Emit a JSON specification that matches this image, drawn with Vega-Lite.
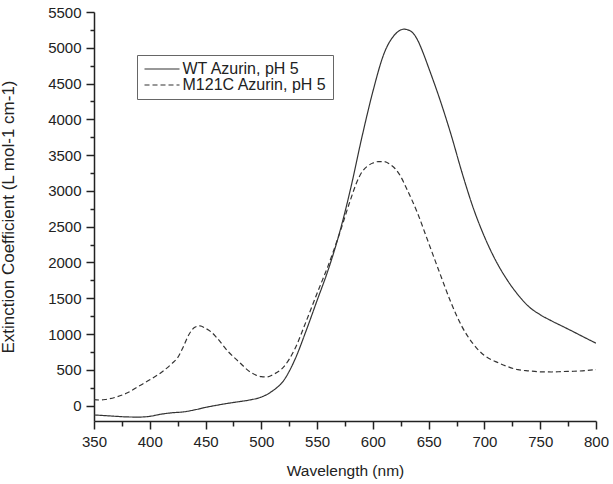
{
  "$schema": "https://vega.github.io/schema/vega-lite/v6.json",
  "width": 502,
  "height": 409,
  "autosize": "none",
  "padding": {"left": 94, "top": 12, "right": 17, "bottom": 63},
  "background": "white",
  "config": {
    "view": {"stroke": null},
    "font": "Liberation Sans",
    "axis": {
      "grid": false,
      "domainColor": "#222",
      "domainWidth": 1.5,
      "tickColor": "#222",
      "tickWidth": 1.5,
      "labelColor": "#222",
      "titleColor": "#222",
      "labelFont": "Liberation Sans",
      "titleFont": "Liberation Sans",
      "titleFontWeight": "normal",
      "labelFontSize": 15
    }
  },
  "data": {
    "values": [
      {"nm": 350, "v": -130, "s": "WT Azurin, pH 5"},
      {"nm": 360, "v": -140, "s": "WT Azurin, pH 5"},
      {"nm": 370, "v": -150, "s": "WT Azurin, pH 5"},
      {"nm": 380, "v": -158, "s": "WT Azurin, pH 5"},
      {"nm": 390, "v": -160, "s": "WT Azurin, pH 5"},
      {"nm": 400, "v": -150, "s": "WT Azurin, pH 5"},
      {"nm": 410, "v": -120, "s": "WT Azurin, pH 5"},
      {"nm": 420, "v": -100, "s": "WT Azurin, pH 5"},
      {"nm": 430, "v": -88, "s": "WT Azurin, pH 5"},
      {"nm": 440, "v": -60, "s": "WT Azurin, pH 5"},
      {"nm": 450, "v": -25, "s": "WT Azurin, pH 5"},
      {"nm": 460, "v": 5, "s": "WT Azurin, pH 5"},
      {"nm": 470, "v": 32, "s": "WT Azurin, pH 5"},
      {"nm": 480, "v": 55, "s": "WT Azurin, pH 5"},
      {"nm": 490, "v": 80, "s": "WT Azurin, pH 5"},
      {"nm": 500, "v": 120, "s": "WT Azurin, pH 5"},
      {"nm": 505, "v": 155, "s": "WT Azurin, pH 5"},
      {"nm": 510, "v": 205, "s": "WT Azurin, pH 5"},
      {"nm": 520, "v": 350, "s": "WT Azurin, pH 5"},
      {"nm": 530, "v": 640, "s": "WT Azurin, pH 5"},
      {"nm": 540, "v": 1040, "s": "WT Azurin, pH 5"},
      {"nm": 550, "v": 1470, "s": "WT Azurin, pH 5"},
      {"nm": 560, "v": 1900, "s": "WT Azurin, pH 5"},
      {"nm": 570, "v": 2410, "s": "WT Azurin, pH 5"},
      {"nm": 580, "v": 3030, "s": "WT Azurin, pH 5"},
      {"nm": 590, "v": 3740, "s": "WT Azurin, pH 5"},
      {"nm": 600, "v": 4390, "s": "WT Azurin, pH 5"},
      {"nm": 610, "v": 4920, "s": "WT Azurin, pH 5"},
      {"nm": 620, "v": 5190, "s": "WT Azurin, pH 5"},
      {"nm": 628, "v": 5260, "s": "WT Azurin, pH 5"},
      {"nm": 635, "v": 5220, "s": "WT Azurin, pH 5"},
      {"nm": 640, "v": 5110, "s": "WT Azurin, pH 5"},
      {"nm": 645, "v": 4930, "s": "WT Azurin, pH 5"},
      {"nm": 650, "v": 4720, "s": "WT Azurin, pH 5"},
      {"nm": 660, "v": 4280, "s": "WT Azurin, pH 5"},
      {"nm": 670, "v": 3790, "s": "WT Azurin, pH 5"},
      {"nm": 680, "v": 3250, "s": "WT Azurin, pH 5"},
      {"nm": 690, "v": 2760, "s": "WT Azurin, pH 5"},
      {"nm": 700, "v": 2360, "s": "WT Azurin, pH 5"},
      {"nm": 710, "v": 2030, "s": "WT Azurin, pH 5"},
      {"nm": 720, "v": 1765, "s": "WT Azurin, pH 5"},
      {"nm": 730, "v": 1550, "s": "WT Azurin, pH 5"},
      {"nm": 740, "v": 1380, "s": "WT Azurin, pH 5"},
      {"nm": 750, "v": 1270, "s": "WT Azurin, pH 5"},
      {"nm": 760, "v": 1185, "s": "WT Azurin, pH 5"},
      {"nm": 770, "v": 1108, "s": "WT Azurin, pH 5"},
      {"nm": 780, "v": 1030, "s": "WT Azurin, pH 5"},
      {"nm": 790, "v": 950, "s": "WT Azurin, pH 5"},
      {"nm": 800, "v": 872, "s": "WT Azurin, pH 5"},
      {"nm": 350, "v": 84, "s": "M121C Azurin, pH 5"},
      {"nm": 355, "v": 78, "s": "M121C Azurin, pH 5"},
      {"nm": 360, "v": 85, "s": "M121C Azurin, pH 5"},
      {"nm": 370, "v": 120, "s": "M121C Azurin, pH 5"},
      {"nm": 380, "v": 180, "s": "M121C Azurin, pH 5"},
      {"nm": 390, "v": 270, "s": "M121C Azurin, pH 5"},
      {"nm": 400, "v": 360, "s": "M121C Azurin, pH 5"},
      {"nm": 410, "v": 460, "s": "M121C Azurin, pH 5"},
      {"nm": 420, "v": 590, "s": "M121C Azurin, pH 5"},
      {"nm": 425, "v": 670, "s": "M121C Azurin, pH 5"},
      {"nm": 430, "v": 820, "s": "M121C Azurin, pH 5"},
      {"nm": 435, "v": 990, "s": "M121C Azurin, pH 5"},
      {"nm": 440, "v": 1090, "s": "M121C Azurin, pH 5"},
      {"nm": 445, "v": 1115, "s": "M121C Azurin, pH 5"},
      {"nm": 450, "v": 1080, "s": "M121C Azurin, pH 5"},
      {"nm": 455, "v": 1030, "s": "M121C Azurin, pH 5"},
      {"nm": 460, "v": 950, "s": "M121C Azurin, pH 5"},
      {"nm": 470, "v": 760, "s": "M121C Azurin, pH 5"},
      {"nm": 480, "v": 610, "s": "M121C Azurin, pH 5"},
      {"nm": 490, "v": 470, "s": "M121C Azurin, pH 5"},
      {"nm": 500, "v": 405, "s": "M121C Azurin, pH 5"},
      {"nm": 505, "v": 400, "s": "M121C Azurin, pH 5"},
      {"nm": 510, "v": 430, "s": "M121C Azurin, pH 5"},
      {"nm": 520, "v": 540, "s": "M121C Azurin, pH 5"},
      {"nm": 530, "v": 790, "s": "M121C Azurin, pH 5"},
      {"nm": 540, "v": 1170, "s": "M121C Azurin, pH 5"},
      {"nm": 550, "v": 1570, "s": "M121C Azurin, pH 5"},
      {"nm": 560, "v": 1960, "s": "M121C Azurin, pH 5"},
      {"nm": 570, "v": 2400, "s": "M121C Azurin, pH 5"},
      {"nm": 580, "v": 2880, "s": "M121C Azurin, pH 5"},
      {"nm": 585, "v": 3100, "s": "M121C Azurin, pH 5"},
      {"nm": 590, "v": 3260, "s": "M121C Azurin, pH 5"},
      {"nm": 595, "v": 3345, "s": "M121C Azurin, pH 5"},
      {"nm": 600, "v": 3390, "s": "M121C Azurin, pH 5"},
      {"nm": 605, "v": 3410, "s": "M121C Azurin, pH 5"},
      {"nm": 610, "v": 3410, "s": "M121C Azurin, pH 5"},
      {"nm": 615, "v": 3375, "s": "M121C Azurin, pH 5"},
      {"nm": 620, "v": 3310, "s": "M121C Azurin, pH 5"},
      {"nm": 625, "v": 3200, "s": "M121C Azurin, pH 5"},
      {"nm": 630, "v": 3040, "s": "M121C Azurin, pH 5"},
      {"nm": 640, "v": 2690, "s": "M121C Azurin, pH 5"},
      {"nm": 650, "v": 2270, "s": "M121C Azurin, pH 5"},
      {"nm": 660, "v": 1850, "s": "M121C Azurin, pH 5"},
      {"nm": 670, "v": 1440, "s": "M121C Azurin, pH 5"},
      {"nm": 680, "v": 1100, "s": "M121C Azurin, pH 5"},
      {"nm": 690, "v": 860, "s": "M121C Azurin, pH 5"},
      {"nm": 700, "v": 700, "s": "M121C Azurin, pH 5"},
      {"nm": 710, "v": 615, "s": "M121C Azurin, pH 5"},
      {"nm": 720, "v": 550, "s": "M121C Azurin, pH 5"},
      {"nm": 730, "v": 502, "s": "M121C Azurin, pH 5"},
      {"nm": 740, "v": 485, "s": "M121C Azurin, pH 5"},
      {"nm": 750, "v": 472, "s": "M121C Azurin, pH 5"},
      {"nm": 760, "v": 470, "s": "M121C Azurin, pH 5"},
      {"nm": 770, "v": 476, "s": "M121C Azurin, pH 5"},
      {"nm": 780, "v": 480, "s": "M121C Azurin, pH 5"},
      {"nm": 790, "v": 488, "s": "M121C Azurin, pH 5"},
      {"nm": 800, "v": 504, "s": "M121C Azurin, pH 5"}
    ]
  },
  "mark": {"type": "line", "interpolate": "monotone", "strokeWidth": 1.2, "color": "#333", "clip": true},
  "encoding": {
    "x": {
      "field": "nm",
      "type": "quantitative",
      "scale": {"domain": [350, 800], "nice": false, "zero": false},
      "axis": {
        "title": "Wavelength (nm)",
        "titleFontSize": 15.5,
        "titlePadding": 14,
        "format": "d",
        "values": [350, 375, 400, 425, 450, 475, 500, 525, 550, 575, 600, 625, 650, 675, 700, 725, 750, 775, 800],
        "labelExpr": "datum.value % 50 === 0 ? datum.label : ''",
        "tickSize": {"condition": {"test": "datum.value % 50 !== 0", "value": 5}, "value": 8},
        "labelPadding": 5,
        "labelFlush": false,
        "labelOverlap": false
      }
    },
    "y": {
      "field": "v",
      "type": "quantitative",
      "scale": {"domain": [-215, 5500], "nice": false, "zero": false},
      "axis": {
        "title": "Extinction Coefficient (L mol-1 cm-1)",
        "titleFontSize": 17,
        "titlePadding": 30,
        "format": "d",
        "values": [0, 250, 500, 750, 1000, 1250, 1500, 1750, 2000, 2250, 2500, 2750, 3000, 3250, 3500, 3750, 4000, 4250, 4500, 4750, 5000, 5250, 5500],
        "labelExpr": "datum.value % 500 === 0 ? datum.label : ''",
        "tickSize": {"condition": {"test": "datum.value % 500 !== 0", "value": 4}, "value": 8},
        "labelPadding": 5,
        "labelFlush": false,
        "labelOverlap": false
      }
    },
    "strokeDash": {
      "field": "s",
      "type": "nominal",
      "scale": {"domain": ["WT Azurin, pH 5", "M121C Azurin, pH 5"], "range": [[1, 0], [5, 3]]},
      "legend": {
        "title": null,
        "orient": "none",
        "legendX": 43,
        "legendY": 43,
        "symbolType": "M-3.5,0H3.5",
        "symbolSize": 100,
        "symbolOffset": 11,
        "symbolStrokeWidth": 1.2,
        "symbolStrokeColor": "#333",
        "labelFontSize": 16,
        "labelFont": "Liberation Sans",
        "labelColor": "#222",
        "strokeColor": "#666",
        "fillColor": "white",
        "padding": 6,
        "rowPadding": -2.5,
        "labelOffset": 12.5
      }
    }
  }
}
